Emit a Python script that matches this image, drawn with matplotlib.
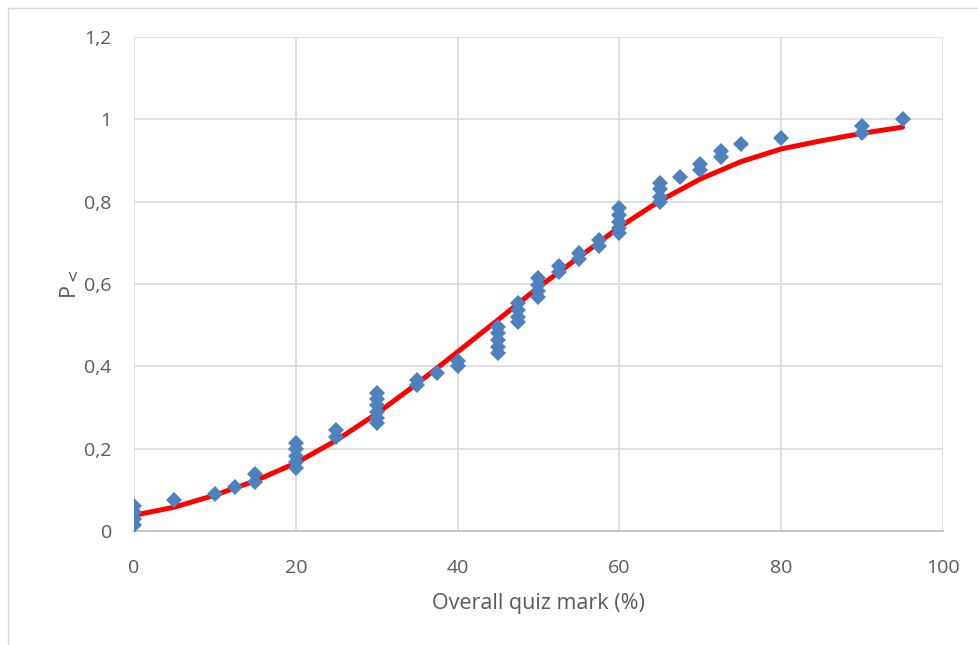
import matplotlib
matplotlib.use("Agg")
import matplotlib.pyplot as plt
from matplotlib.patches import Rectangle

# observed points (overall quiz mark, P<)
mark_x = [0, 0, 0, 0, 5, 10, 12.5, 15, 15,
          20, 20, 20, 20, 20, 25, 25,
          30, 30, 30, 30, 30, 30, 35, 35, 37.5, 40, 40,
          45, 45, 45, 45, 45, 47.5, 47.5, 47.5, 47.5,
          50, 50, 50, 50, 52.5, 52.5, 55, 55, 57.5, 57.5,
          60, 60, 60, 60, 60, 65, 65, 65, 65, 67.5,
          70, 70, 72.5, 72.5, 75, 80, 90, 90, 95]
p_obs = [0.06, 0.045, 0.03, 0.015, 0.075, 0.09, 0.107, 0.138, 0.12,
         0.214, 0.199, 0.182, 0.167, 0.153, 0.245, 0.228,
         0.335, 0.32, 0.306, 0.289, 0.274, 0.262, 0.368, 0.355, 0.385, 0.413, 0.40,
         0.495, 0.48, 0.464, 0.447, 0.432, 0.553, 0.537, 0.521, 0.507,
         0.614, 0.598, 0.582, 0.568, 0.643, 0.629, 0.675, 0.66, 0.706, 0.692,
         0.784, 0.767, 0.75, 0.735, 0.723, 0.845, 0.83, 0.812, 0.8, 0.86,
         0.892, 0.876, 0.924, 0.908, 0.939, 0.954, 0.985, 0.968, 1.0]

# fitted curve
fit_x = [0, 5, 10, 15, 20, 25, 30, 35, 40, 45, 50, 55, 60, 65, 70, 75, 80, 85, 90, 95]
fit_p = [0.038, 0.058, 0.087, 0.122, 0.165, 0.22, 0.285, 0.358, 0.435, 0.513, 0.592,
         0.665, 0.738, 0.802, 0.855, 0.897, 0.928, 0.948, 0.966, 0.981]

plt.rcParams['font.family'] = ['Open Sans', 'DejaVu Sans']

fig = plt.figure(figsize=(9.79, 6.45), dpi=100)
ax = fig.add_axes([134 / 979, 1 - 531 / 645, (943 - 134) / 979, (531 - 37) / 645])

# chart area border (partially visible in reference)
fig.patches.append(Rectangle((8 / 979, -0.1), 1.2, 1.1 - 8 / 645, transform=fig.transFigure,
                             fill=False, edgecolor='#d9d9d9', lw=1.0))

ax.plot(fit_x, fit_p, color='#ff0000', lw=3.6, zorder=2, solid_capstyle='round')
ax.plot(mark_x, p_obs, 'D', color='#4f81bd', markersize=8.3, markeredgewidth=0, zorder=3)

ax.set_xlim(0, 100)
ax.set_ylim(0, 1.2)
ax.set_xticks([0, 20, 40, 60, 80, 100])
yt = [0, 0.2, 0.4, 0.6, 0.8, 1.0, 1.2]
ax.set_yticks(yt)
ax.set_yticklabels(['0', '0,2', '0,4', '0,6', '0,8', '1', '1,2'])

ax.grid(True, color='#d9d9d9', lw=1.2)
ax.set_axisbelow(True)
for s in ['top', 'right', 'left']:
    ax.spines[s].set_visible(False)
ax.spines['bottom'].set_color('#bfbfbf')
ax.spines['bottom'].set_linewidth(1.2)
ax.tick_params(length=0, labelsize=14, colors='#595959')
ax.tick_params(axis='x', pad=20)
ax.tick_params(axis='y', pad=16)

ax.set_xlabel('Overall quiz mark (%)', fontsize=15.5, color='#595959', labelpad=12)
ax.set_ylabel('P$_{<}$', fontsize=15.5, color='#595959', labelpad=2)

fig.savefig('out.png', dpi=100)
